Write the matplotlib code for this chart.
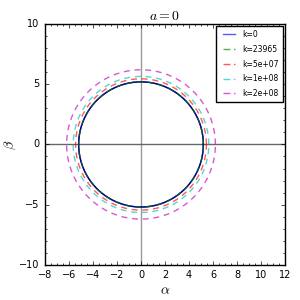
import numpy as np
import matplotlib
matplotlib.use('Agg')
import matplotlib.pyplot as plt
from matplotlib.ticker import AutoMinorLocator

plt.style.use('classic')

# shadow radius for each k
k_labels = ['k=0', 'k=23965', 'k=5e+07', 'k=1e+08', 'k=2e+08']
radii = [5.196, 5.2, 5.45, 5.65, 6.2]
colors = ['b', 'g', 'r', 'c', 'm']
styles = ['-', '--', '--', '--', '--']
r_black = 5.196

fig = plt.figure(figsize=(3, 3), dpi=100)
ax = fig.add_axes([0.15, 0.117, 0.80, 0.803])

t = np.linspace(0, 2 * np.pi, 500)
ax.axvline(0, color='0.6', lw=1.0, zorder=1)
ax.axhline(0, color='0.4', lw=1.0, zorder=1)
ax.plot(r_black * np.cos(t), r_black * np.sin(t), color='k', lw=1.0, zorder=2)
for lab, r, c, s in zip(k_labels, radii, colors, styles):
    ax.plot(r * np.cos(t), r * np.sin(t), color=c, ls=s, lw=1.0, alpha=0.65,
            dashes=(4.3, 3.4) if s == '--' else (None, None), label=lab, zorder=3)

ax.set_xlim(-8, 12)
ax.set_ylim(-10, 10)
ax.set_xticks(np.arange(-8, 13, 2))
ax.set_yticks(np.arange(-10, 11, 5))
ax.xaxis.set_minor_locator(AutoMinorLocator(4))
ax.yaxis.set_minor_locator(AutoMinorLocator(5))
ax.tick_params(labelsize=7, which='both', direction='in', top=True, right=True)
ax.tick_params(which='major', length=3)
ax.tick_params(which='minor', length=1.5)

ax.set_title(r'$a=0$', fontsize=10, pad=3)
ax.set_xlabel(r'$\alpha$', fontsize=10, labelpad=2)
ax.set_ylabel(r'$\beta$', fontsize=10, labelpad=1)

leg = ax.legend(loc='upper right', fontsize=5.5, handlelength=2.2, borderpad=0.5,
                labelspacing=0.75, handletextpad=0.7, fancybox=False,
                borderaxespad=0.3)
for h, s in zip(leg.get_lines(), styles):
    if s == '--':
        h.set_dashes((5, 2.5))

fig.savefig('out.png', dpi=100)
